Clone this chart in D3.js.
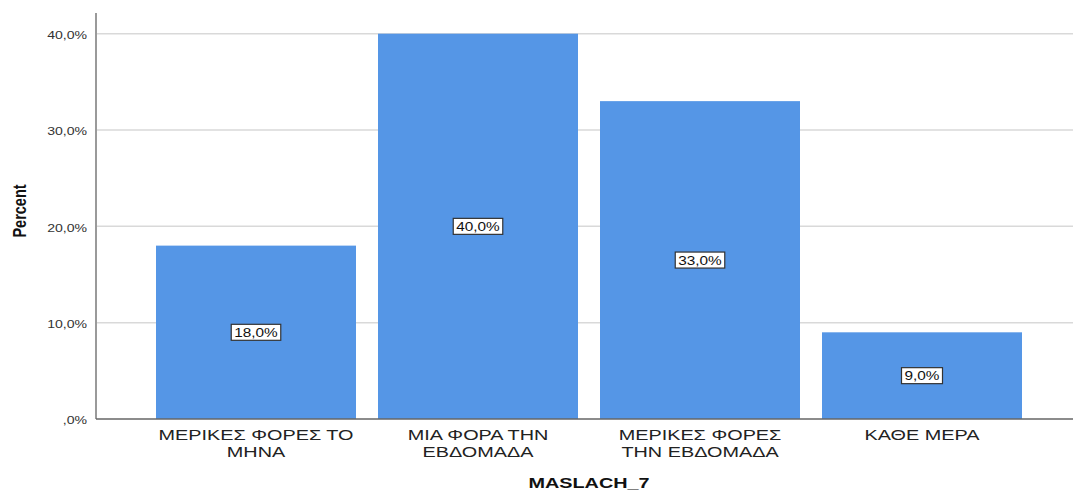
<!DOCTYPE html>
<html>
<head>
<meta charset="utf-8">
<script src="https://cdn.jsdelivr.net/npm/d3@7"></script>
<style>
  html, body { margin: 0; padding: 0; background: #fff; }
  svg { display: block; font-family: "Liberation Sans", Arial, sans-serif; }
</style>
</head>
<body>
<svg id="chart" width="1073" height="490"></svg>
<script>
// Response categories of MASLACH_7 (two-line labels)
const categories = [
  ["ΜΕΡΙΚΕΣ ΦΟΡΕΣ ΤΟ", "ΜΗΝΑ"],
  ["ΜΙΑ ΦΟΡΑ ΤΗΝ", "ΕΒΔΟΜΑΔΑ"],
  ["ΜΕΡΙΚΕΣ ΦΟΡΕΣ", "ΤΗΝ ΕΒΔΟΜΑΔΑ"],
  ["ΚΑΘΕ ΜΕΡΑ"]
];
const percents = [18.0, 40.0, 33.0, 9.0];
const yTicks = [0, 10, 20, 30, 40];
const yTitle = "Percent";
const xTitle = "MASLACH_7";

// text in this chart is drawn with a wide aspect
const SX = 1.28;

const svg = d3.select("#chart");
const plot = { left: 96, right: 1082, top: 13, bottom: 419 };

const keys = categories.map(c => c.join(" "));
const x = d3.scaleBand().domain(keys).range([plot.left, plot.right])
  .paddingInner(22 / 222).paddingOuter(60 / 222);
const y = d3.scaleLinear().domain([0, 42.15]).range([plot.bottom, plot.top]);

const fmtTick = v => (v === 0 ? "" : String(v)) + ",0%";
const fmtValue = v => d3.format(".1f")(v).replace(".", ",") + "%";

// grid lines
svg.append("g").selectAll("line").data(yTicks.filter(t => t > 0)).join("line")
  .attr("x1", plot.left).attr("x2", plot.right)
  .attr("y1", d => y(d)).attr("y2", d => y(d))
  .attr("stroke", "#d9d9d9").attr("stroke-width", 1.5);

// bars
svg.append("g").selectAll("rect").data(percents).join("rect")
  .attr("x", (d, i) => x(keys[i]))
  .attr("width", x.bandwidth())
  .attr("y", d => y(d))
  .attr("height", d => y(0) - y(d))
  .attr("fill", "#5596e6");

// y axis
const yAxis = svg.append("g").attr("transform", `translate(${plot.left},0)`)
  .call(d3.axisLeft(y).tickValues(yTicks).tickSize(0).tickPadding(7).tickFormat(fmtTick));
yAxis.select(".domain").remove();
yAxis.selectAll("text").attr("font-size", 11).attr("fill", "#333")
  .attr("font-family", "'Liberation Sans', Arial, sans-serif")
  .attr("dy", "0.45em")
  .attr("transform", `scale(${SX},1)`);
svg.append("line").attr("x1", plot.left).attr("x2", plot.left)
  .attr("y1", plot.top).attr("y2", plot.bottom)
  .attr("stroke", "#9a9a9a").attr("stroke-width", 2);

// baseline
svg.append("line").attr("x1", plot.left).attr("x2", plot.right)
  .attr("y1", plot.bottom).attr("y2", plot.bottom)
  .attr("stroke", "#666").attr("stroke-width", 1.5);

// category labels
const xl = svg.append("g");
categories.forEach((lines, i) => {
  const cx = x(keys[i]) + x.bandwidth() / 2;
  const t = xl.append("text")
    .attr("transform", `translate(${cx},440) scale(${SX},1)`)
    .attr("text-anchor", "middle")
    .attr("font-size", 15.5).attr("fill", "#222");
  lines.forEach((ln, j) => {
    t.append("tspan").attr("x", 0).attr("dy", j === 0 ? 0 : 17).text(ln);
  });
});

// value labels in boxes
const vl = svg.append("g");
percents.forEach((v, i) => {
  const cx = x(keys[i]) + x.bandwidth() / 2;
  const cy = (y(v) + y(0)) / 2;
  const g = vl.append("g").attr("transform", `translate(${cx},${cy})`);
  const txt = g.append("text").attr("y", 4.5)
    .attr("transform", `scale(${SX},1)`)
    .attr("text-anchor", "middle").attr("font-size", 12).attr("fill", "#111")
    .text(fmtValue(v));
  const w = txt.node().getBBox().width * SX + 6;
  g.insert("rect", "text")
    .attr("x", -w / 2).attr("y", -8)
    .attr("width", w).attr("height", 16)
    .attr("fill", "#fff").attr("stroke", "#333").attr("stroke-width", 1.2);
});

// axis titles
svg.append("text")
  .attr("transform", `translate(25.5,211) scale(${SX},1) rotate(-90)`)
  .attr("text-anchor", "middle").attr("font-size", 14.5).attr("font-weight", "bold")
  .attr("fill", "#111").text(yTitle);

svg.append("text")
  .attr("transform", `translate(${(plot.left + plot.right) / 2},488) scale(${SX},1)`)
  .attr("text-anchor", "middle").attr("font-size", 15.5).attr("font-weight", "bold")
  .attr("fill", "#111").text(xTitle);
</script>
</body>
</html>
